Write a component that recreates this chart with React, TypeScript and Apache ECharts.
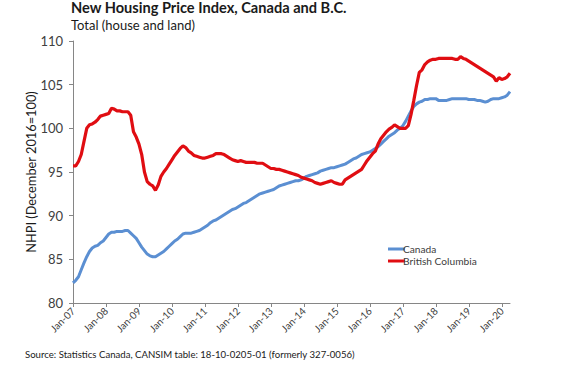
import React, { useEffect, useRef } from "react";
import * as echarts from "echarts";

const monthNames = ["Jan", "Feb", "Mar", "Apr", "May", "Jun", "Jul", "Aug", "Sep", "Oct", "Nov", "Dec"];
const years = ["07", "08", "09", "10", "11", "12", "13", "14", "15", "16", "17", "18", "19", "20"];
const lastYearMonths = 4; // Jan-20 .. Apr-20

const canada = [
  // 2007
  82.3, 82.6, 83.0, 83.8, 84.6, 85.3, 85.9, 86.3, 86.5, 86.6, 86.9, 87.1,
  // 2008
  87.5, 87.9, 88.1, 88.1, 88.2, 88.2, 88.2, 88.3, 88.3, 88.0, 87.7, 87.4,
  // 2009
  86.9, 86.4, 86.0, 85.6, 85.4, 85.3, 85.3, 85.5, 85.7, 85.9, 86.2, 86.5,
  // 2010
  86.8, 87.1, 87.3, 87.6, 87.9, 88.0, 88.0, 88.0, 88.1, 88.2, 88.3, 88.5,
  // 2011
  88.7, 88.9, 89.2, 89.4, 89.5, 89.7, 89.9, 90.1, 90.3, 90.5, 90.7, 90.8,
  // 2012
  91.0, 91.2, 91.4, 91.5, 91.7, 91.9, 92.1, 92.3, 92.5, 92.6, 92.7, 92.8,
  // 2013
  92.9, 93.0, 93.2, 93.4, 93.5, 93.6, 93.7, 93.8, 93.9, 94.0, 94.0, 94.1,
  // 2014
  94.3, 94.5, 94.6, 94.7, 94.8, 94.9, 95.1, 95.2, 95.3, 95.4, 95.5, 95.5,
  // 2015
  95.6, 95.7, 95.8, 95.9, 96.1, 96.3, 96.5, 96.6, 96.8, 97.0, 97.1, 97.2,
  // 2016
  97.3, 97.5, 97.7, 97.9, 98.2, 98.5, 98.8, 99.1, 99.3, 99.5, 99.8, 100.0,
  // 2017
  100.3, 100.8, 101.4, 102.0, 102.5, 102.8, 103.0, 103.1, 103.3, 103.3, 103.4, 103.4,
  // 2018
  103.4, 103.2, 103.2, 103.2, 103.2, 103.3, 103.4, 103.4, 103.4, 103.4, 103.4, 103.4,
  // 2019
  103.3, 103.3, 103.3, 103.2, 103.2, 103.1, 103.0, 103.1, 103.3, 103.4, 103.4, 103.4,
  // 2020
  103.5, 103.6, 103.8, 104.2,
];

const britishColumbia = [
  // 2007
  95.7, 95.7, 96.2, 97.0, 98.5, 100.0, 100.4, 100.5, 100.7, 101.0, 101.4, 101.5,
  // 2008
  101.6, 101.7, 102.3, 102.2, 102.0, 102.0, 101.9, 101.9, 101.9, 101.5, 99.6, 99.0,
  // 2009
  98.2, 97.0, 95.0, 93.9, 93.6, 93.4, 92.9, 93.5, 94.5, 95.0, 95.4, 95.9,
  // 2010
  96.4, 96.9, 97.3, 97.7, 98.0, 97.8, 97.4, 97.2, 96.9, 96.8, 96.7, 96.6,
  // 2011
  96.6, 96.7, 96.8, 96.9, 97.1, 97.1, 97.1, 97.0, 96.8, 96.6, 96.4, 96.3,
  // 2012
  96.2, 96.3, 96.2, 96.1, 96.1, 96.1, 96.1, 96.0, 96.0, 96.0, 95.8, 95.6,
  // 2013
  95.4, 95.4, 95.3, 95.3, 95.2, 95.1, 95.0, 94.9, 94.8, 94.7, 94.6, 94.4,
  // 2014
  94.3, 94.2, 94.1, 94.0, 93.8, 93.7, 93.6, 93.7, 93.8, 93.9, 94.0, 93.8,
  // 2015
  93.7, 93.6, 93.6, 94.1, 94.3, 94.5, 94.7, 94.9, 95.1, 95.3, 95.8, 96.3,
  // 2016
  96.7, 97.1, 97.4, 98.2, 98.8, 99.2, 99.6, 99.9, 100.1, 100.4, 100.2, 100.0,
  // 2017
  100.0, 100.0, 100.3, 101.6, 103.2, 104.9, 106.4, 106.7, 107.3, 107.6, 107.8, 107.9,
  // 2018
  107.9, 108.0, 108.0, 108.0, 108.0, 108.0, 108.0, 107.9, 107.9, 108.2, 108.0, 107.9,
  // 2019
  107.7, 107.5, 107.3, 107.1, 106.9, 106.7, 106.5, 106.3, 106.1, 105.9, 105.4, 105.8,
  // 2020
  105.6, 105.7, 105.9, 106.3,
];

const seriesNames = ["Canada", "British Columbia"];
const yTicks = { min: 80, max: 110, interval: 5 };

const titleText = "New Housing Price Index, Canada and B.C.";
const subtitleText = "Total (house and land)";
const yAxisName = "NHPI (December 2016=100)";
const sourceText = "Source: Statistics Canada, CANSIM table: 18-10-0205-01 (formerly 327-0056)";

const categories: string[] = [];
years.forEach((y, i) => {
  const n = i === years.length - 1 ? lastYearMonths : 12;
  for (let m = 0; m < n; m++) categories.push(monthNames[m] + "-" + y);
});

const FONT = "Lato, 'Noto Sans', sans-serif";
const TXT = "#404040";

export default function App() {
  const ref = useRef<HTMLDivElement>(null);
  useEffect(() => {
    if (!ref.current) return;
    const chart = echarts.init(ref.current, null, { renderer: "svg" });
    chart.setOption({
      animation: false,
      backgroundColor: "#ffffff",
      textStyle: { fontFamily: FONT },
      graphic: [
        {
          type: "text",
          left: 71,
          top: 0,
          style: { text: titleText, font: "bold 14.6px " + FONT, fill: "#1a1a1a" },
        },
        {
          type: "text",
          left: 71,
          top: 18,
          style: { text: subtitleText, font: "13px " + FONT, fill: "#1a1a1a" },
        },
        {
          type: "text",
          left: 25,
          top: 349,
          style: { text: sourceText, font: "9.6px " + FONT, fill: "#1a1a1a" },
        },
      ],
      legend: {
        orient: "vertical",
        left: 383,
        top: 239,
        itemGap: 2,
        itemWidth: 17,
        itemHeight: 3,
        icon: "rect",
        textStyle: { fontFamily: FONT, fontSize: 10.2, color: TXT, padding: [0, 0, 0, -7] },
        data: seriesNames,
      },
      grid: { left: 73, top: 41, width: 437, height: 262, containLabel: false },
      xAxis: {
        type: "category",
        data: categories,
        boundaryGap: false,
        axisLine: { lineStyle: { color: "#868686", width: 1 } },
        axisTick: { show: true, interval: 11, length: 4, lineStyle: { color: "#868686" } },
        axisLabel: {
          interval: 11,
          rotate: 45,
          fontSize: 10,
          color: TXT,
          fontFamily: FONT,
          margin: 6,
        },
        splitLine: { show: false },
      },
      yAxis: {
        type: "value",
        min: yTicks.min,
        max: yTicks.max,
        interval: yTicks.interval,
        name: yAxisName,
        nameLocation: "middle",
        nameGap: 36,
        nameMoveOverlap: false,
        nameTextStyle: { fontFamily: FONT, fontSize: 12.8, color: "#1a1a1a" },
        axisLine: { show: true, lineStyle: { color: "#868686", width: 1 } },
        axisTick: { show: true, length: 4, lineStyle: { color: "#868686" } },
        axisLabel: { fontSize: 13, color: TXT, fontFamily: FONT, margin: 10 },
        splitLine: { show: false },
      },
      series: [
        {
          name: seriesNames[0],
          type: "line",
          data: canada,
          showSymbol: false,
          symbol: "none",
          lineStyle: { color: "#5B8FD2", width: 3 },
          itemStyle: { color: "#5B8FD2" },
        },
        {
          name: seriesNames[1],
          type: "line",
          data: britishColumbia,
          showSymbol: false,
          symbol: "none",
          lineStyle: { color: "#E00D12", width: 3.2 },
          itemStyle: { color: "#E00D12" },
        },
      ],
    });
    return () => chart.dispose();
  }, []);
  return (
    <div
      ref={ref}
      style={{ position: "fixed", left: 0, top: 0, width: 575, height: 372, background: "#fff" }}
    />
  );
}
